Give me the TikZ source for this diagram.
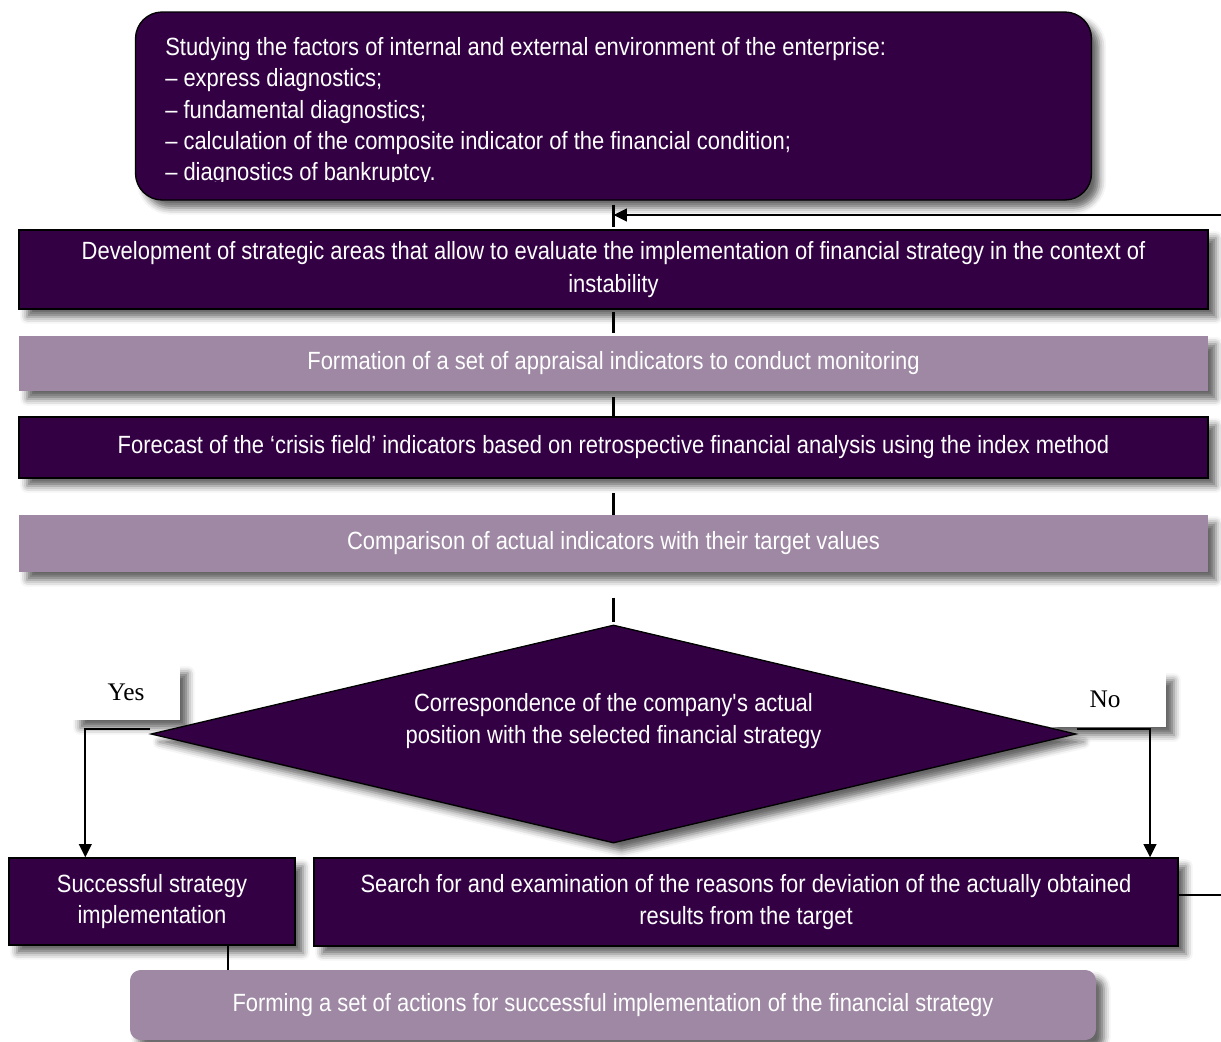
\documentclass[tikz,border=0pt]{standalone}
\usepackage{fontspec}
\setmainfont{Liberation Sans}[FakeStretch=0.88]
\newfontfamily\answerfont{Liberation Serif}
\usepackage{xcolor}
\usetikzlibrary{shapes.geometric}
\usetikzlibrary{arrows.meta}
\usetikzlibrary{shadows.blur}

\definecolor{plumdark}{HTML}{330044}
\definecolor{plumlight}{HTML}{9E88A4}

\begin{document}
\begin{tikzpicture} [
    x = 0.75pt, y = -0.75pt,
    font = \fontsize{18.7pt}{23.5pt}\selectfont,
    shadowed/.style   = { blur shadow={shadow xshift=6pt, shadow yshift=-6pt,
                          shadow blur radius=5pt, shadow opacity=60} },
    darkblock/.style  = { rectangle, draw=black, line width=1pt, fill=plumdark,
                          text=white, align=center, inner sep=0pt, shadowed },
    lightblock/.style = { rectangle, fill=plumlight, text=white,
                          align=center, inner sep=0pt, shadowed },
    decision/.style   = { diamond, draw=black, line width=1pt, fill=plumdark,
                          inner sep=0pt, shadowed },
    answer/.style     = { rectangle, fill=white, inner sep=0pt, shadowed,
                          font=\answerfont\fontsize{19pt}{22pt}\selectfont },
    line/.style       = { draw, line width=1.7pt },
    arrow/.style      = { draw, line width=1.7pt,
                          -{Triangle[length=10pt,width=9.5pt]} },
  ]
  \useasboundingbox (0,0) rectangle (1221,1042);
  \clip (0,0) rectangle (1221,1042);

  % top box, its text cut off at the lower edge
  \node [darkblock, rounded corners=20pt, minimum width=717pt,
         minimum height=141pt] (env) at (613.5,106) {};
  \begin{scope}
    \clip (140,20) rectangle (1090,181);
    \node [text=white, align=left, anchor=north west, inner sep=0pt]
          (envtext) at (165,37)
          {Studying the factors of internal and external environment of the enterprise:\\
           – express diagnostics;\\
           – fundamental diagnostics;\\
           – calculation of the composite indicator of the financial condition;\\
           – diagnostics of bankruptcy.};
  \end{scope}

  \node [darkblock, minimum width=891.75pt, minimum height=59.25pt]
        (dev) at (613.5,269.5)
        {Development of strategic areas that allow to evaluate the implementation of financial strategy in the context of\\[1pt]instability};
  \node [lightblock, minimum width=891.75pt, minimum height=41.25pt]
        (form) at (613.5,363.5)
        {Formation of a set of appraisal indicators to conduct monitoring};
  \node [darkblock, minimum width=891.75pt, minimum height=45.75pt]
        (fcast) at (613.5,447.5)
        {Forecast of the `crisis field' indicators based on retrospective financial analysis using the index method};
  \node [lightblock, minimum width=891.75pt, minimum height=42.75pt]
        (comp) at (613.5,543.5)
        {Comparison of actual indicators with their target values};

  \node [answer, minimum width=81pt, minimum height=41.25pt] (yes) at (126,692.5) {Yes};
  \node [answer, minimum width=91.5pt, minimum height=41.25pt] (no) at (1105,699.5) {No};

  \node [decision, minimum width=693.75pt, minimum height=163.5pt] (dia) at (613.5,734) {};
  \node [text=white, align=center] (diatext) at (613.5,721)
        {Correspondence of the company\textquotesingle s actual\\position with the selected financial strategy};

  \node [darkblock, minimum width=214.5pt, minimum height=65.25pt]
        (succ) at (152,901.5) {Successful strategy\\implementation};
  \node [darkblock, minimum width=648pt, minimum height=66pt]
        (srch) at (746,902)
        {Search for and examination of the reasons for deviation of the actually obtained\\results from the target};
  \node [lightblock, rounded corners=8pt, minimum width=724.5pt, minimum height=52.5pt]
        (act) at (613,1005)
        {Forming a set of actions for successful implementation of the financial strategy};

  % connect the blocks
  \begin{scope} [every path/.style=line]
    \path [shorten <=3pt, shorten >=2pt] (env.south) -- coordinate (loopin) (dev.north);
    \path [shorten <=2pt, shorten >=2pt] (dev.south) -- (form.north);
    \path [shorten <=4.5pt] (form.south) -- (fcast.north);
    \path [shorten <=11pt] (fcast.south) -- (comp.north);
    \path [shorten <=19pt, shorten >=1.5pt] (comp.south) -- (dia.north);
    \path ([xshift=57pt]succ.south) -- ([xshift=57pt]succ.south |- act.north);
  \end{scope}
  \path [arrow] ([yshift=4pt]dia.west) -| ([xshift=-50pt]succ.north);
  \path [arrow] ([yshift=4pt]dia.east) -| ([xshift=303pt]srch.north);
  \path [arrow] ([yshift=5pt]srch.east) -- ++(70,0) |- (loopin);
\end{tikzpicture}
\end{document}
